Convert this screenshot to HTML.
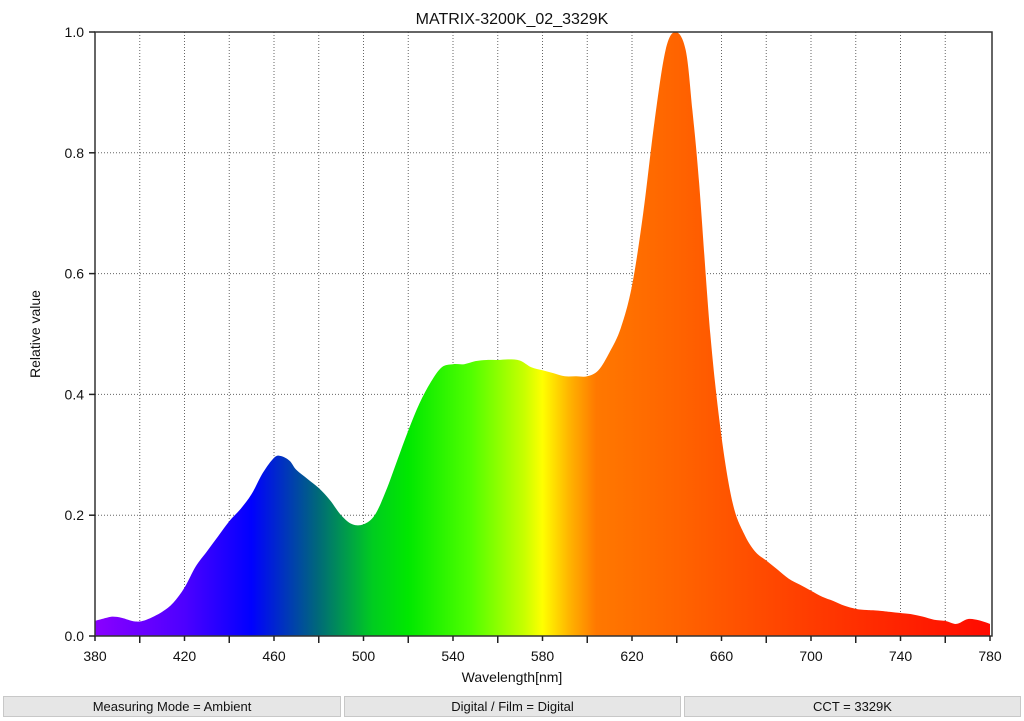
<!DOCTYPE html>
<html><head><meta charset="utf-8"><style>
body{margin:0;background:#fff;width:1024px;height:721px;overflow:hidden;font-family:"Liberation Sans",sans-serif}
.btn{position:absolute;top:696px;height:21px;background:#e6e6e6;border:1px solid #c8c8c8;box-sizing:border-box;font-size:13px;text-align:center;line-height:20px;color:#111}
</style></head><body>
<svg id="s" width="1024" height="721" style="position:absolute;left:0;top:0" font-family="Liberation Sans, sans-serif">
<defs><linearGradient id="g" x1="95" x2="990" y1="0" y2="0" gradientUnits="userSpaceOnUse">
<stop offset="0" stop-color="#8a00ff"/>
<stop offset="0.1" stop-color="#4d00ff"/>
<stop offset="0.175" stop-color="#0000ff"/>
<stop offset="0.25" stop-color="#006a78"/>
<stop offset="0.31" stop-color="#00cc20"/>
<stop offset="0.35" stop-color="#00e800"/>
<stop offset="0.42" stop-color="#50ff00"/>
<stop offset="0.48" stop-color="#c8ff00"/>
<stop offset="0.5" stop-color="#ffff00"/>
<stop offset="0.53" stop-color="#ffb400"/>
<stop offset="0.56" stop-color="#ff7800"/>
<stop offset="0.65" stop-color="#ff6400"/>
<stop offset="0.8" stop-color="#ff3c00"/>
<stop offset="1" stop-color="#ff0a00"/>
</linearGradient></defs>
<g id="grid" stroke="#666" stroke-width="1" stroke-dasharray="1,2"></g>
<path id="area" fill="url(#g)"/>
<rect x="95" y="32" width="897" height="604" fill="none" stroke="#333" stroke-width="1.5"/>
<g id="ticks" stroke="#222" stroke-width="1.5"></g>
<g id="lbl" font-size="14" fill="#111"></g>
<text x="512" y="24" font-size="16" text-anchor="middle" fill="#111">MATRIX-3200K_02_3329K</text>
<text x="512" y="682" font-size="14" text-anchor="middle" fill="#111">Wavelength[nm]</text>
<text x="40" y="334" font-size="14" text-anchor="middle" fill="#111" transform="rotate(-90 40 334)">Relative value</text>
</svg>
<div class="btn" style="left:3px;width:338px">Measuring Mode = Ambient</div>
<div class="btn" style="left:344px;width:337px">Digital / Film = Digital</div>
<div class="btn" style="left:684px;width:337px">CCT = 3329K</div>
<script>
const X=n=>95+(n-380)*2.2375, Y=v=>636-v*604;
const d=[[380,.025],[385,.03],[388,.032],[392,.03],[398,.024],[403,.027],[410,.04],[415,.055],[420,.08],[425,.115],[430,.14],[435,.165],[440,.19],[445,.21],[450,.235],[455,.27],[460,.295],[463,.298],[467,.29],[470,.275],[475,.26],[480,.245],[485,.225],[490,.2],[495,.185],[500,.185],[505,.2],[510,.24],[515,.29],[520,.34],[525,.385],[530,.42],[535,.445],[540,.45],[545,.45],[550,.455],[555,.457],[560,.457],[565,.458],[570,.456],[575,.445],[580,.44],[585,.435],[590,.43],[595,.43],[600,.43],[605,.44],[610,.47],[615,.51],[620,.58],[625,.7],[630,.85],[635,.97],[639.5,1.0],[644,.97],[647,.87],[650,.75],[655,.5],[660,.33],[665,.22],[670,.17],[675,.14],[680,.125],[685,.11],[690,.095],[695,.085],[700,.075],[705,.065],[710,.058],[715,.05],[720,.045],[725,.043],[730,.042],[740,.038],[745,.036],[750,.032],[755,.027],[760,.025],[765,.02],[770,.028],[775,.026],[780,.02]];
const p=d.map(a=>[X(a[0]),Y(a[1])]);
let s=`M${p[0][0]},636 L${p[0][0]},${p[0][1]}`;
for(let i=0;i<p.length-1;i++){const a=p[i-1]||p[i],b=p[i],c=p[i+1],e=p[i+2]||c;
s+=` C${b[0]+(c[0]-a[0])/6},${b[1]+(c[1]-a[1])/6} ${c[0]-(e[0]-b[0])/6},${c[1]-(e[1]-b[1])/6} ${c[0]},${c[1]}`;}
s+=` L${p[p.length-1][0]},636 Z`;
document.getElementById('area').setAttribute('d',s);
let g='',t='',l='';
for(let n=400;n<780;n+=20){g+=`<line x1="${X(n)}" x2="${X(n)}" y1="32" y2="636"/>`;}
for(let v=.2;v<1;v+=.2){g+=`<line x1="95" x2="992" y1="${Y(v)}" y2="${Y(v)}"/>`;}
for(let n=380;n<=780;n+=20){t+=`<line x1="${X(n)}" x2="${X(n)}" y1="636" y2="${n%40==20?641:643}"/>`;}
for(let n=380;n<=780;n+=40){l+=`<text x="${X(n)}" y="661" text-anchor="middle">${n}</text>`;}
for(let i=0;i<=5;i++){const v=i*.2;t+=`<line x1="89" x2="95" y1="${Y(v)}" y2="${Y(v)}"/>`;l+=`<text x="84" y="${Y(v)+5}" text-anchor="end">${v.toFixed(1)}</text>`;}
document.getElementById('grid').innerHTML=g;document.getElementById('ticks').innerHTML=t;document.getElementById('lbl').innerHTML=l;
</script>
</body></html>
